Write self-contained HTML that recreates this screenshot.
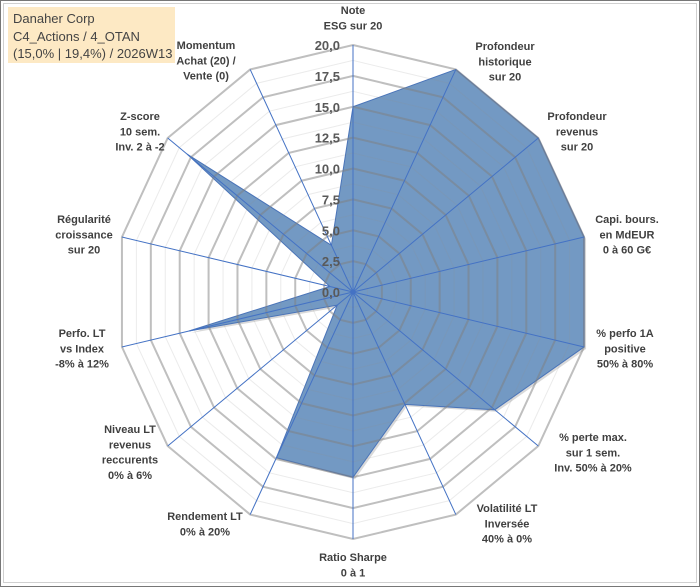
<!DOCTYPE html>
<html><head><meta charset="utf-8"><style>
html,body{margin:0;padding:0;background:#fff;}
body{width:700px;height:587px;overflow:hidden;position:relative;font-family:"Liberation Sans",Arial,sans-serif;}
#frame{position:absolute;left:0;top:0;width:698px;height:585px;border:1px solid #777;}
#inner{position:absolute;left:3px;top:3px;width:692px;height:578px;border:1px solid #d0d0d0;}
#info{position:absolute;left:8px;top:7px;width:167px;height:56px;background:#fde9c4;color:#444;font-size:13px;line-height:17.5px;padding:3px 0 0 5px;box-sizing:border-box;font-family:"Liberation Sans",Arial,sans-serif;}
svg{position:absolute;left:0;top:0;}
</style></head><body>
<div id="frame"></div>
<div id="inner"></div>
<svg id="chart" width="700" height="587"></svg>
<div id="info">Danaher Corp<br>C4_Actions / 4_OTAN<br>(15,0% | 19,4%) / 2026W13</div>
<script>
const categories = [["Note","ESG sur 20"],["Profondeur","historique","sur 20"],["Profondeur","revenus","sur 20"],["Capi. bours.","en MdEUR","0 à 60 G€"],["% perfo 1A","positive","50% à 80%"],["% perte max.","sur 1 sem.","Inv. 50% à 20%"],["Volatilité LT","Inversée","40% à 0%"],["Ratio Sharpe","0 à 1"],["Rendement LT","0% à 20%"],["Niveau LT","revenus","reccurents","0% à 6%"],["Perfo. LT","vs Index","-8% à 12%"],["Régularité","croissance","sur 20"],["Z-score","10 sem.","Inv. 2 à -2"],["Momentum","Achat (20) /","Vente (0)"]];
const values = [15, 20, 20, 20, 20, 15.3, 10.1, 15, 14.9, 1.7, 14.2, 2.0, 17.9, 4.2];
const tickLabels = ["0,0","2,5","5,0","7,5","10,0","12,5","15,0","17,5","20,0"];
const tickValues = [0,2.5,5,7.5,10,12.5,15,17.5,20];
const labelPos = [[353,10],[505,46],[577,116],[627,219],[625,333],[593,437],[507,508],[353,557],[205,516],[130,429],[82,333],[84,219],[140,116],[206,45]];

const NS="http://www.w3.org/2000/svg";
const svg=document.getElementById('chart');
const cx=353, cy=292, rx=237, ry=247, maxV=20;
const N=categories.length;
function pt(i,v){const a=2*Math.PI*i/N;return [cx+rx*(v/maxV)*Math.sin(a), cy-ry*(v/maxV)*Math.cos(a)];}
function mk(t,attrs){const e=document.createElementNS(NS,t);for(const k in attrs)e.setAttribute(k,attrs[k]);svg.appendChild(e);return e;}
// series
const shadow=mk('polygon',{points:values.map((v,i)=>{const q=pt(i,v);return (q[0]+2)+','+(q[1]+2);}).join(' '),fill:'rgba(0,0,0,0.15)'});


const poly=mk('polygon',{points:values.map((v,i)=>pt(i,v).join(',')).join(' '),fill:'#7399c3',stroke:'#4a74b8','stroke-width':1});


// minor rings
for(let k=0;k<tickValues.length-1;k++){
  const v=(tickValues[k]+tickValues[k+1])/2;
  const p=mk('polygon',{points:categories.map((c,i)=>pt(i,v).join(',')).join(' '),fill:'none',stroke:'#909090','stroke-opacity':0.18,'stroke-width':1});
  
  
}
// major rings
tickValues.forEach((v,k)=>{ if(v===0)return;
  const p=mk('polygon',{points:categories.map((c,i)=>pt(i,v).join(',')).join(' '),fill:'none',stroke:'#808080','stroke-opacity':0.5,'stroke-width':2});
  
  
});
// axes
categories.forEach((c,i)=>{const q=pt(i,maxV);
  const l=mk('line',{x1:cx,y1:cy,x2:q[0],y2:q[1],stroke:'#4472c4','stroke-width':1});
  
  
});
mk('circle',{cx:cx,cy:cy,r:2.5,fill:'#4472c4'});
// tick labels
tickValues.forEach((v,k)=>{
  const t=mk('text',{x:340,y:cy-ry*v/maxV+5,'text-anchor':'end','font-size':13,'font-weight':'bold',fill:'#595959'});
  t.textContent=tickLabels[k];
  
  
});
// category labels
categories.forEach((lines,i)=>{
  const [x,y]=labelPos[i];
  const t=mk('text',{x:x,y:y+4,'text-anchor':'middle','font-size':11,'font-weight':'bold',fill:'#404040'});
  
  
  lines.forEach((s,j)=>{const ts=document.createElementNS(NS,'tspan');ts.setAttribute('x',x);ts.setAttribute('dy',j===0?0:15.3);ts.textContent=s;t.appendChild(ts);});
});
</script>
</body></html>
